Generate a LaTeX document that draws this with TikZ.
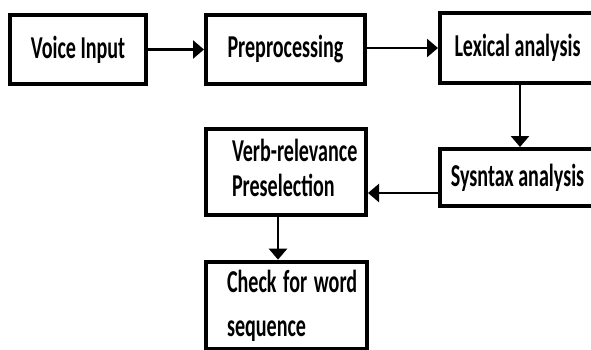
\documentclass[tikz,border=0pt]{standalone}
\usepackage{fontspec}
\usepackage{graphicx}
\setmainfont{Carlito}
\usetikzlibrary{arrows.meta}
\newcommand\sqz[1]{\scalebox{0.63}[1]{#1}}
\tikzset{
  box/.style={draw, line width=4bp, rectangle, inner sep=0pt, font=\bfseries\fontsize{32}{38}\selectfont},
  arr/.style={line width=2.5bp, -{Triangle[length=11bp,width=18bp]}},
}
\begin{document}
\begin{tikzpicture}[x=1bp,y=-1bp]
\useasboundingbox[fill=white] (0,0) rectangle (591,349);
\node[box, minimum width=136bp, minimum height=69bp] (vi) at (78,49.5) {\sqz{Voice Input}};
\node[box, minimum width=159bp, minimum height=69bp] (pp) at (285.5,49.5) {\sqz{Preprocessing}};
\node[box, minimum width=155bp, minimum height=70bp] (lx) at (517.5,48) {\sqz{Lexical analysis}};
\node[box, minimum width=155bp, minimum height=57bp] (sy) at (517.5,177.5) {\sqz{Sysntax analysis}};
\node[box, minimum width=160bp, minimum height=86bp, text width=108bp, inner xsep=26bp, align=left] (vb) at (286,172)
  {\sqz{\fontsize{32}{35}\selectfont\begin{tabular}{@{}l@{}}Verb-relevance\\Preselection\end{tabular}}};
\node[box, minimum width=161bp, minimum height=81bp, text width=119bp, inner xsep=21bp, align=left] (ck) at (286.5,305.5)
  {\sqz{\fontsize{32}{44}\selectfont\begin{tabular}{@{}l@{}}Check for word\\sequence\end{tabular}}};
\draw[arr] (vi.east) -- (pp.west);
\draw[arr] ([yshift=1.5bp]pp.east) -- ([yshift=1.5bp]pp.east -| lx.west);
\draw[arr] ([xshift=2.5bp]lx.south) -- ([xshift=2.5bp]sy.north);
\draw[arr] ([yshift=-15.5bp]sy.west) -- ([yshift=-15.5bp]sy.west -| vb.east);
\draw[arr] ([xshift=-8bp]vb.south) -- ([xshift=-8bp]vb.south |- ck.north);
\end{tikzpicture}
\end{document}
